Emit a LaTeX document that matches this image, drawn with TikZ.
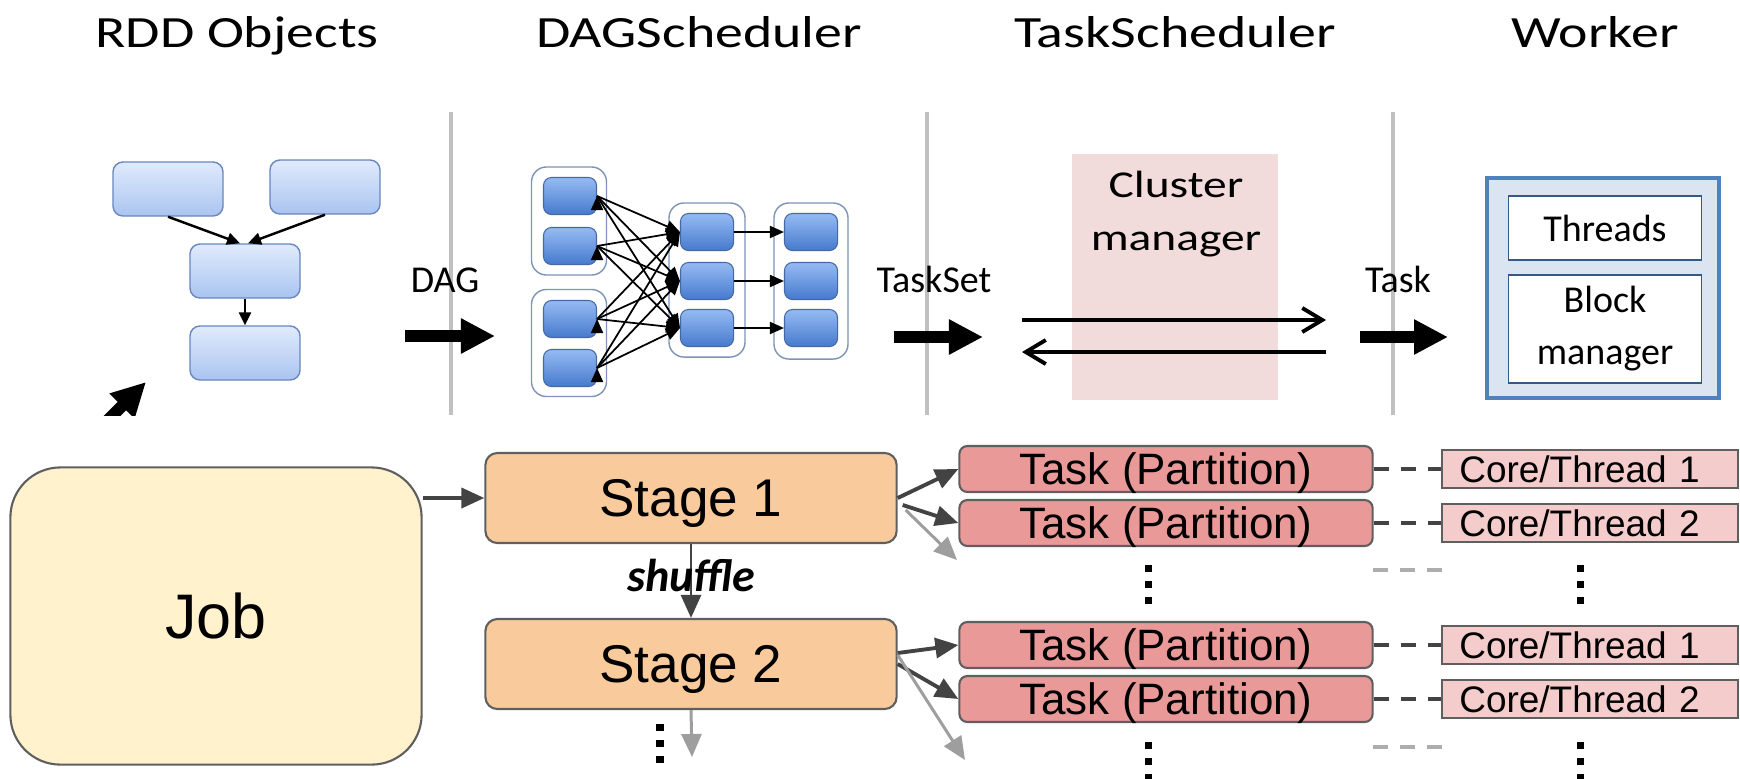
\documentclass[tikz,border=0pt]{standalone}
\usepackage{fontspec}
\setmainfont{Carlito}
\newfontfamily\widefont[FakeStretch=1.25]{Carlito}
\newfontfamily\arialfont{Liberation Sans}
\usetikzlibrary{arrows.meta,positioning}

\definecolor{rddtop}{RGB}{224,235,252}
\definecolor{rddbot}{RGB}{170,196,240}
\definecolor{rddline}{RGB}{105,135,190}
\definecolor{dagtop}{RGB}{150,187,242}
\definecolor{dagbot}{RGB}{70,122,206}
\definecolor{dagline}{RGB}{70,105,165}
\definecolor{grpline}{RGB}{125,148,182}
\definecolor{sepgray}{RGB}{192,192,192}
\definecolor{clusterpink}{RGB}{241,219,219}
\definecolor{workerfill}{RGB}{219,229,241}
\definecolor{workerline}{RGB}{79,129,189}
\definecolor{jobfill}{RGB}{255,242,204}
\definecolor{stagefill}{RGB}{249,203,156}
\definecolor{taskfill}{RGB}{234,153,153}
\definecolor{corefill}{RGB}{244,204,204}
\definecolor{edgedark}{RGB}{67,67,67}
\definecolor{edgegray}{RGB}{158,158,158}
\definecolor{boxline}{RGB}{95,95,95}

\begin{document}
\begin{tikzpicture}[
            x=0.01cm, y=-0.01cm,
            title/.style={font=\widefont\fontsize{12.7}{15}\selectfont, anchor=base, inner sep=0pt},
            lbl/.style={font=\fontsize{10.8}{13}\selectfont, anchor=base, inner sep=0pt},
            rddbox/.style={draw=rddline, line width=0.4pt, rounded corners=1mm, top color=rddtop, bottom color=rddbot, minimum width=11mm, minimum height=5.4mm, inner sep=0pt},
            dagbox/.style={draw=dagline, line width=0.3pt, rounded corners=0.8mm, top color=dagtop, bottom color=dagbot, minimum width=5.3mm, minimum height=3.7mm, inner sep=0pt},
            grp/.style={draw=grpline, line width=0.4pt, rounded corners=1.5mm, fill=white, inner sep=0pt},
            sepline/.style={draw=sepgray, line width=1.1pt},
            bigarrow/.style={line width=3.4pt, -{Triangle[length=3.4mm,width=3.3mm]}},
            rddarrow/.style={line width=0.7pt, -{Triangle[length=1.3mm,width=1.2mm]}},
            dagarrow/.style={line width=0.5pt, -{Triangle[length=1.4mm,width=1.2mm]}},
            openarrow/.style={line width=1.1pt, -{Straight Barb[length=2mm,width=2.4mm]}},
            inbox/.style={draw=workerline!70!black, line width=0.5pt, fill=white, minimum width=19.3mm, inner sep=0pt, align=center, font=\fontsize{10.8}{14.8}\selectfont},
            jobbox/.style={draw=boxline, line width=0.6pt, fill=jobfill, rounded corners=5mm, minimum width=41.1mm, minimum height=29.7mm, text depth=0pt, font=\arialfont\fontsize{17.9}{20}\selectfont},
            stagebox/.style={draw=boxline, line width=0.6pt, fill=stagefill, rounded corners=1.2mm, minimum width=41.1mm, minimum height=9mm, text depth=0pt, font=\arialfont\fontsize{15.1}{17}\selectfont},
            taskbox/.style={draw=boxline, line width=0.6pt, fill=taskfill, rounded corners=0.8mm, minimum width=41.3mm, minimum height=4.6mm, inner sep=0pt, text depth=0pt, font=\arialfont\fontsize{12.5}{14}\selectfont},
            corebox/.style={draw=boxline, line width=0.6pt, fill=corefill, text width=26.1mm, inner xsep=1.7mm, inner ysep=0pt, minimum height=3.8mm, align=left, text depth=0pt, font=\arialfont\fontsize{10.5}{12}\selectfont},
            darkarrow/.style={draw=edgedark, line width=1.1pt, -{Triangle[length=2.3mm,width=2mm]}},
            grayarrow/.style={draw=edgegray, line width=0.85pt, -{Triangle[length=2.3mm,width=2mm]}},
            dashlink/.style={draw=edgedark, line width=1.1pt, dash pattern=on 1.5mm off 1.2mm},
            graydash/.style={draw=edgegray!85, line width=1.1pt, dash pattern=on 1.5mm off 1.2mm},
            vdots/.style={line width=2pt, dash pattern=on 0.7mm off 0.9mm}
        ]
            \useasboundingbox (0,0) rectangle (1740,778);

            % top: scheduling pipeline
            \node[title] (trdd) at (237,47) {RDD Objects};
            \node[title] (tdag) at (699,47) {DAGScheduler};
            \node[title] (ttask) at (1175,47) {TaskScheduler};
            \node[title] (twork) at (1595,47) {Worker};

            \draw[sepline] (451,112) -- (451,415);
            \draw[sepline] (927,112) -- (927,415);
            \draw[sepline] (1393,112) -- (1393,415);

            \node[rddbox] (rdd1) at (168,189) {};
            \node[rddbox] (rdd2) at (325,187) {};
            \node[rddbox] (rdd3) at (245,271) {};
            \node[rddbox] (rdd4) at (245,353) {};
            \draw[rddarrow] (rdd1.south) -- ([xshift=-0.5mm]rdd3.north);
            \draw[rddarrow] (rdd2.south) -- ([xshift=0.3mm]rdd3.north);
            \draw[rddarrow] (rdd3) -- (rdd4);

            \begin{scope}
                \clip (0,0) rectangle (1740,415);
                \coordinate (cutfrom) at (70,458);
                \coordinate (cutto) at (146,382);
                \draw[bigarrow] (cutfrom) -- (cutto);
            \end{scope}

            \coordinate (dagfrom) at (405,336);
            \coordinate (dagto) at (495,336);
            \draw[bigarrow] (dagfrom) -- (dagto);
            \node[lbl] (ldag) at (445,292) {DAG};

            \node[grp, minimum width=7.5mm, minimum height=10.8mm] (g1) at (569,221) {};
            \node[grp, minimum width=7.5mm, minimum height=10.7mm] (g2) at (569,343) {};
            \node[grp, minimum width=7.6mm, minimum height=15.4mm] (g3) at (707,280) {};
            \node[grp, minimum width=7.4mm, minimum height=15.6mm] (g4) at (811,281) {};
            \node[dagbox] (a1) at (570,196) {};
            \node[dagbox] (a2) at (570,246) {};
            \node[dagbox] (a3) at (570,319) {};
            \node[dagbox] (a4) at (570,368) {};
            \node[dagbox] (m1) at (707,232) {};
            \node[dagbox] (m2) at (707,281) {};
            \node[dagbox] (m3) at (707,328) {};
            \node[dagbox] (n1) at (811,232) {};
            \node[dagbox] (n2) at (811,281) {};
            \node[dagbox] (n3) at (811,328) {};

            \draw[dagarrow] (a1.east) edge (m1.west) edge (m2.west) edge (m3.west);
            \draw[dagarrow] (a2.east) edge (m1.west) edge (m2.west) edge (m3.west);
            \draw[dagarrow] (a3.east) edge (m1.west) edge (m2.west) edge (m3.west);
            \draw[dagarrow] (a4.east) edge (m1.west) edge (m2.west) edge (m3.west);
            \draw[dagarrow] (m1) -- (n1);
            \draw[dagarrow] (m2) -- (n2);
            \draw[dagarrow] (m3) -- (n3);

            \coordinate (tsfrom) at (894,337);
            \coordinate (tsto) at (983,337);
            \draw[bigarrow] (tsfrom) -- (tsto);
            \node[lbl] (ltaskset) at (934,292) {TaskSet};

            \node[fill=clusterpink, minimum width=20.5mm, minimum height=24.5mm, inner sep=0pt] (cluster) at (1175,277) {};
            \node[font=\widefont\fontsize{10.8}{14.8}\selectfont, align=center, anchor=base, inner sep=0pt] (clustertxt) at (1176,250) {Cluster\\manager};
            \coordinate (cmgo1) at (1022,320);
            \coordinate (cmgo2) at (1326,320);
            \coordinate (cmback1) at (1326,352);
            \coordinate (cmback2) at (1022,352);
            \draw[openarrow] (cmgo1) -- (cmgo2);
            \draw[openarrow] (cmback1) -- (cmback2);

            \coordinate (tkfrom) at (1360,337);
            \coordinate (tkto) at (1448,337);
            \draw[bigarrow] (tkfrom) -- (tkto);
            \node[lbl] (ltask) at (1398,292) {Task};

            \node[draw=workerline, line width=1.1pt, fill=workerfill, minimum width=23.2mm, minimum height=22mm, inner sep=0pt] (worker) at (1603,288) {};
            \node[inbox, minimum height=6.4mm] (threads) at (1605,228) {Threads};
            \node[inbox, minimum height=10.8mm] (blockmgr) at (1605,329) {Block\\manager};

            % bottom: job, stages, tasks
            \node[jobbox] (job) at (216,616) {Job};
            \node[stagebox] (s1) at (691,498) {Stage 1};
            \node[stagebox] (s2) at (691,664) {Stage 2};

            \node[taskbox] (t1) at (1166,469) {Task (Partition)};
            \node[taskbox] (t2) at (1166,523) {Task (Partition)};
            \node[taskbox] (t3) at (1166,645) {Task (Partition)};
            \node[taskbox] (t4) at (1166,699) {Task (Partition)};

            \node[corebox] (c1) at (1590,469) {Core/Thread 1};
            \node[corebox] (c2) at (1590,523) {Core/Thread 2};
            \node[corebox] (c3) at (1590,645) {Core/Thread 1};
            \node[corebox] (c4) at (1590,699) {Core/Thread 2};

            \draw[darkarrow] (job.east |- s1.west) -- (s1.west);
            \draw[darkarrow, line width=0.8pt] (s1.south) -- node[font=\bfseries\itshape\fontsize{13.1}{15}\selectfont, inner sep=0pt, yshift=0.6mm] (shuf) {shuffle} (s2.north);

            \draw[darkarrow] (s1.east) -- (t1.west);
            \draw[darkarrow] ([xshift=0.5mm,yshift=-0.7mm]s1.east) -- (t2.west);
            \coordinate (more1) at (957,560);
            \draw[grayarrow] ([xshift=0.8mm,yshift=-1.2mm]s1.east) -- (more1);

            \draw[darkarrow] ([yshift=1.1mm]s2.east) -- (t3.west);
            \draw[darkarrow] (s2.east) -- (t4.west);
            \coordinate (more2) at (965,760);
            \draw[grayarrow] ([yshift=0.9mm]s2.east) -- (more2);
            \coordinate (more3) at (692,757);
            \draw[grayarrow] (s2.south) -- (more3);

            \draw[dashlink] (t1.east) -- (c1.west);
            \draw[dashlink] (t2.east) -- (c2.west);
            \draw[dashlink] (t3.east) -- (c3.west);
            \draw[dashlink] (t4.east) -- (c4.west);
            \coordinate (gd1) at (1373,570);
            \coordinate (gd2) at (1442,570);
            \coordinate (gd3) at (1373,747);
            \coordinate (gd4) at (1442,747);
            \draw[graydash] (gd1) -- (gd2);
            \draw[graydash] (gd3) -- (gd4);

            \draw[vdots] (660,724) -- (660,763);
            \draw[vdots] (1148,565) -- (1148,604);
            \draw[vdots] (1580,565) -- (1580,604);
            \draw[vdots] (1148,742) -- (1148,781);
            \draw[vdots] (1580,742) -- (1580,781);
        \end{tikzpicture}
\end{document}
